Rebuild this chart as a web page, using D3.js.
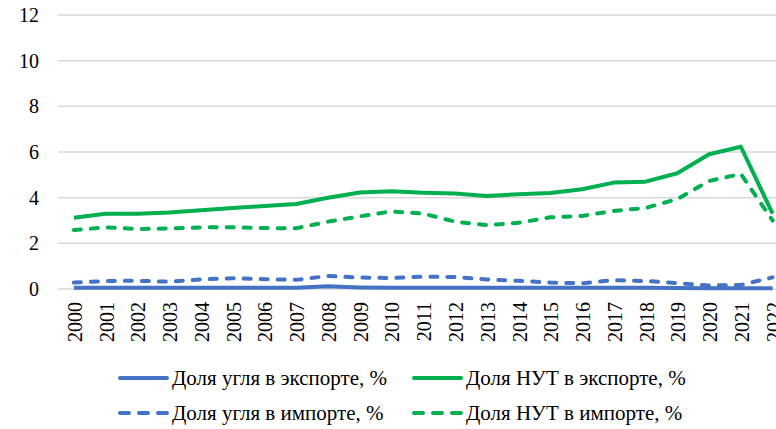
<!DOCTYPE html>
<html>
<head>
<meta charset="utf-8">
<script src="https://cdn.jsdelivr.net/npm/d3@7"></script>
<style>
  body { margin: 0; background: #fff; }
</style>
</head>
<body>
<script>
var years = ["2000","2001","2002","2003","2004","2005","2006","2007","2008","2009","2010","2011",
  "2012","2013","2014","2015","2016","2017","2018","2019","2020","2021","2022"];
var coalExport = [0.05,0.05,0.05,0.05,0.05,0.05,0.05,0.05,0.12,0.07,0.05,0.05,0.05,0.05,0.05,0.05,0.05,0.05,0.05,0.04,0.03,0.03,0.03];
var nutExport = [3.12,3.3,3.3,3.35,3.45,3.55,3.63,3.72,4.0,4.23,4.28,4.22,4.18,4.07,4.15,4.2,4.37,4.66,4.7,5.07,5.9,6.23,3.3];
var coalImport = [0.28,0.35,0.36,0.32,0.42,0.47,0.43,0.4,0.57,0.5,0.48,0.54,0.52,0.42,0.36,0.28,0.25,0.39,0.35,0.26,0.15,0.18,0.51];
var nutImport = [2.58,2.7,2.63,2.65,2.7,2.7,2.67,2.66,2.95,3.18,3.4,3.3,2.95,2.8,2.9,3.14,3.2,3.42,3.55,3.94,4.73,5.04,3.0];
var yTicks = [0,2,4,6,8,10,12];

var series = [
  { name: "Доля угля в экспорте, %", values: coalExport, color: "#4472C4", dash: null },
  { name: "Доля НУТ в экспорте, %", values: nutExport, color: "#00B050", dash: null },
  { name: "Доля угля в импорте, %", values: coalImport, color: "#4472C4", dash: "7,10" },
  { name: "Доля НУТ в импорте, %", values: nutImport, color: "#00B050", dash: "7,10" }
];

var FONT = "'Liberation Serif', 'Times New Roman', 'DejaVu Serif', serif";
var W = 776, H = 429;
var svg = d3.select("body").append("svg")
  .attr("width", W).attr("height", H)
  .attr("font-family", FONT);

var x = d3.scalePoint().domain(years).range([58, 788.5]).padding(0.5);
var y = d3.scaleLinear().domain([0, 12]).range([289, 15]);

// gridlines
svg.selectAll("line.grid")
  .data(yTicks)
  .enter()
  .append("line")
  .attr("class", "grid")
  .attr("x1", 58)
  .attr("x2", W)
  .attr("y1", function (d) { return y(d); })
  .attr("y2", function (d) { return y(d); })
  .attr("stroke", "#d9d9d9")
  .attr("stroke-width", 1.5);

// y labels
svg.selectAll("text.ylab")
  .data(yTicks)
  .enter()
  .append("text")
  .attr("class", "ylab")
  .attr("x", 39)
  .attr("y", function (d) { return y(d); })
  .attr("dy", "0.35em")
  .attr("text-anchor", "end")
  .attr("font-size", "20px")
  .text(function (d) { return d; });

// x labels (rotated); 2022 runs past the right edge as in the source
svg.selectAll("text.xlab")
  .data(years)
  .enter()
  .append("text")
  .attr("class", "xlab")
  .attr("transform", function (d) { return "translate(" + (x(d) + 1) + ",302) rotate(-90)"; })
  .attr("text-anchor", "end")
  .attr("dy", "0.35em")
  .attr("font-size", "20px")
  .text(function (d) { return d; });

var line = d3.line()
  .x(function (d, i) { return x(years[i]); })
  .y(function (d) { return y(d); });

svg.selectAll("path.series")
  .data(series)
  .enter()
  .append("path")
  .attr("class", "series")
  .attr("d", function (d) { return line(d.values); })
  .attr("fill", "none")
  .attr("stroke", function (d) { return d.color; })
  .attr("stroke-width", 4)
  .attr("stroke-linejoin", "round")
  .attr("stroke-linecap", function (d) { return d.dash ? "round" : "butt"; })
  .attr("stroke-dasharray", function (d) { return d.dash; });

// legend, 2 x 2
var legendPos = [[118, 378], [412, 378], [118, 413], [412, 413]];
var legend = svg.selectAll("g.legend")
  .data(series)
  .enter()
  .append("g")
  .attr("class", "legend")
  .attr("transform", function (d, i) { return "translate(" + legendPos[i][0] + "," + legendPos[i][1] + ")"; });

legend.append("line")
  .attr("x1", 2).attr("x2", 49)
  .attr("y1", 0).attr("y2", 0)
  .attr("stroke", function (d) { return d.color; })
  .attr("stroke-width", 4)
  .attr("stroke-linecap", "round")
  .attr("stroke-dasharray", function (d) { return d.dash ? "9,10" : null; });

legend.append("text")
  .attr("x", 54)
  .attr("y", 0)
  .attr("dy", "0.35em")
  .attr("font-size", "21px")
  .text(function (d) { return d.name; });
</script>
</body>
</html>
